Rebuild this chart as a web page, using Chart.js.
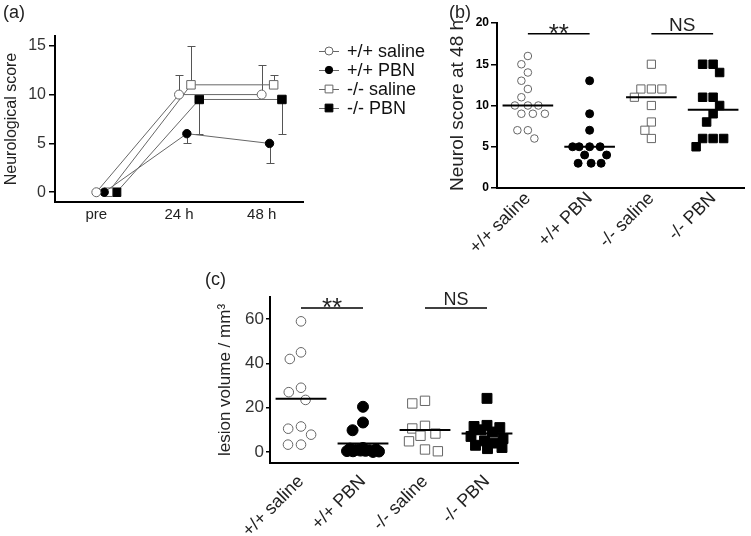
<!DOCTYPE html>
<html>
<head>
<meta charset="utf-8">
<script src="https://cdn.jsdelivr.net/npm/chart.js@4.4.1/dist/chart.umd.min.js"></script>
<style>
  body { margin: 0; background: #fff; width: 751px; height: 536px; position: relative; overflow: hidden;
         font-family: "Liberation Sans", Arial, sans-serif; }
  canvas { position: absolute; }
  .tag { position: absolute; font-size: 18px; line-height: 18px; color: #222; }
</style>
</head>
<body>
<canvas id="chartA" width="435" height="232" style="left:0;top:0"></canvas>
<canvas id="chartB" width="311" height="280" style="left:440px;top:0"></canvas>
<canvas id="chartC" width="330" height="268" style="left:205px;top:268px"></canvas>
<div class="tag" style="left:3px;top:3px">(a)</div>
<div class="tag" style="left:449px;top:3px">(b)</div>
<div class="tag" style="left:205px;top:270px">(c)</div>
<script>
/* ------------------------------
   DATA
--------------------------------*/

const groups = ["+/+ saline", "+/+ PBN", "-/- saline", "-/- PBN"];
const timeLabels = ["pre", "24 h", "48 h"];

// (a) neurological score over time
const scoreSalineWT = [0, 10, 10];
const scorePbnWT    = [0, 6, 5];
const scoreSalineKO = [0, 11, 11];
const scorePbnKO    = [0, 9.5, 9.5];
// end of each error bar
const errSalineWT = [null, 12, 13];
const errPbnWT    = [null, 5, 3];
const errSalineKO = [null, 15, 12];
const errPbnKO    = [null, 6, 6];
const yTicksA = [0, 5, 10, 15];

// (b) neurological score at 48 h
const neuroSalineWT = [16, 15, 14, 13, 12, 11, 10, 10, 10, 9, 9, 9, 7, 7, 6];
const neuroPbnWT    = [13, 9, 7, 5, 5, 5, 5, 4, 4, 3, 3, 3];
const neuroSalineKO = [15, 12, 12, 12, 11, 10, 8, 7, 6];
const neuroPbnKO    = [15, 15, 14, 11, 11, 10, 9, 8, 6, 6, 6, 5];
const neuroCenter   = [10, 5, 11, 9.5];
const yTicksB = [0, 5, 10, 15, 20];

// (c) lesion volume
const lesionSalineWT = [59, 45, 42, 29, 27, 23.5, 11.5, 10.5, 7.8, 3.3, 3.3];
const lesionPbnWT    = [20.4, 13.3, 9.8, 1.8, 1.5, 1.2, 1, 0.8, 0.6, 0.5, 0.4, 0.3, 0.2, 0];
const lesionSalineKO = [23.1, 21.9, 11.8, 10.6, 8.3, 7.3, 4.8, 1.1, 0.3];
const lesionPbnKO    = [24.2, 12, 11.5, 11, 10, 9, 7, 6, 5, 4, 3, 2, 1.5];
const lesionCenter   = [24, 3.8, 9.9, 8.3];
const yTicksC = [0, 20, 40, 60];

const sigPairs  = [[0, 1], [2, 3]];
const sigLabels = ["**", "NS"];

/* ------------------------------
   COMMON SETTINGS
--------------------------------*/

const FONT = '"Liberation Sans", Arial, sans-serif';
Chart.defaults.font.family = FONT;
Chart.defaults.color = "#222";
Chart.defaults.animation = false;
Chart.defaults.events = [];
Chart.defaults.plugins.legend.display = false;
Chart.defaults.plugins.tooltip.enabled = false;

const looks = [
    { pointStyle: "circle", fill: "#fff", stroke: "#666" },
    { pointStyle: "circle", fill: "#000", stroke: "#000" },
    { pointStyle: "rect",   fill: "#fff", stroke: "#666" },
    { pointStyle: "rect",   fill: "#000", stroke: "#000" }
];

function yAxis(o) {
    return {
        min: o.min, max: o.max,
        afterBuildTicks: s => { s.ticks = o.ticks.map(v => ({ value: v })); },
        afterFit: s => { s.width = o.width; },
        ticks: { font: o.tickFont, color: o.tickColor, padding: o.tickPad },
        grid: { drawOnChartArea: false, tickLength: o.tickLen, color: "#000", lineWidth: 1.5 },
        border: { color: "#000", width: 2 },
        title: { display: true, text: o.title, font: o.titleFont, color: "#222",
                 padding: { top: o.titlePad, bottom: 0 } }
    };
}

function xAxis(o) {
    return {
        type: "linear", min: -0.5, max: o.labels.length - 0.5,
        afterBuildTicks: s => { s.ticks = o.labels.map((_, i) => ({ value: i })); },
        afterFit: s => { s.height = o.height; },
        ticks: { callback: v => o.labels[v], font: o.font, color: "#222", padding: o.pad,
                 maxRotation: o.rot, minRotation: o.rot, autoSkip: false },
        grid: { display: false, drawTicks: false },
        border: { color: "#000", width: 2 }
    };
}

// simple beeswarm: offsets in px, highest values placed first.
// when a point would go wider than maxHalf it is put where it overlaps least
function swarm(ypx, dc, maxHalf) {
    const order = ypx.map((_, i) => i).sort((a, b) => ypx[b] - ypx[a]);
    const placed = [];
    const off = [];
    order.forEach(i => {
        const y = ypx[i];
        const cands = [0];
        const blocked = [];
        placed.forEach(p => {
            const dy = Math.abs(p.y - y);
            if (dy < dc) {
                const dx = Math.sqrt(dc * dc - dy * dy);
                blocked.push([p.x - dx, p.x + dx]);
                cands.push(p.x - dx, p.x + dx);
            }
        });
        cands.sort((a, b) => Math.abs(a) - Math.abs(b) || a - b);
        let x = cands.find(c => blocked.every(([l, r]) => c <= l + 1e-6 || c >= r - 1e-6));
        if (Math.abs(x) > maxHalf) {
            let best = -1;
            for (let c = -maxHalf; c <= maxHalf; c += 0.5) {
                const d = Math.min(...placed.map(p => Math.hypot(p.x - c, p.y - y)));
                if (d > best + 1e-6 || (Math.abs(d - best) < 1e-6 && Math.abs(c) < Math.abs(x))) {
                    best = d;
                    x = c;
                }
            }
        }
        placed.push({ x, y });
        off[i] = x;
    });
    return off;
}

function applySwarm(chart, sets, dc, maxHalf) {
    const xs = chart.scales.x, ys = chart.scales.y;
    const pxY = Math.abs(ys.getPixelForValue(1) - ys.getPixelForValue(0));
    const pxX = Math.abs(xs.getPixelForValue(1) - xs.getPixelForValue(0));
    sets.forEach((vals, g) => {
        const off = swarm(vals.map(v => v * pxY), dc, maxHalf);
        chart.data.datasets[g].data = vals.map((v, i) => ({ x: g + off[i] / pxX, y: v }));
    });
    chart.update();
}

// centre lines + significance brackets
function groupMarks(centers, sigLevel, sigFonts) {
    return {
        id: "groupMarks",
        afterDatasetsDraw(chart) {
            const { ctx, scales: { x, y } } = chart;
            ctx.save();
            ctx.strokeStyle = "#000";
            ctx.lineWidth = 2;
            centers.forEach((m, g) => {
                const py = y.getPixelForValue(m);
                ctx.beginPath();
                ctx.moveTo(x.getPixelForValue(g - 0.41), py);
                ctx.lineTo(x.getPixelForValue(g + 0.41), py);
                ctx.stroke();
            });
            const py = y.getPixelForValue(sigLevel);
            sigPairs.forEach(([a, b], k) => {
                const xa = x.getPixelForValue(a), xb = x.getPixelForValue(b);
                ctx.lineWidth = 1.5;
                ctx.beginPath();
                ctx.moveTo(xa, py);
                ctx.lineTo(xb, py);
                ctx.stroke();
                const f = sigFonts[k];
                ctx.font = f.font;
                ctx.fillStyle = "#222";
                ctx.textAlign = "center";
                ctx.textBaseline = "alphabetic";
                ctx.fillText(sigLabels[k], (xa + xb) / 2, py + f.dy);
            });
            ctx.restore();
        }
    };
}

function scatterSets(sets, radii) {
    return sets.map((vals, g) => ({
        label: groups[g],
        data: vals.map(v => ({ x: g, y: v })),
        pointStyle: looks[g].pointStyle,
        pointRadius: radii[g],
        pointBackgroundColor: looks[g].fill,
        pointBorderColor: looks[g].stroke,
        pointBorderWidth: 1
    }));
}

/* ------------------------------
   (a) TIME COURSE
--------------------------------*/

const scoresA = [scoreSalineWT, scorePbnWT, scoreSalineKO, scorePbnKO];
const errsA = [errSalineWT, errPbnWT, errSalineKO, errPbnKO];
const dodge = [0, 0.095, 0.145, 0.245];
const radiiA = [4.5, 4.2, 6, 6];

const errorBars = {
    id: "errorBars",
    beforeDatasetsDraw(chart) {
        const { ctx, scales: { x, y } } = chart;
        ctx.save();
        ctx.strokeStyle = "#555";
        ctx.lineWidth = 1;
        chart.data.datasets.forEach((ds, s) => {
            ds.data.forEach((p, i) => {
                const e = errsA[s][i];
                if (e == null) return;
                const px = Math.round(x.getPixelForValue(p.x)) + 0.5;
                const pe = Math.round(y.getPixelForValue(e)) + 0.5;
                ctx.beginPath();
                ctx.moveTo(px, y.getPixelForValue(p.y));
                ctx.lineTo(px, pe);
                ctx.moveTo(px - 4, pe);
                ctx.lineTo(px + 4, pe);
                ctx.stroke();
            });
        });
        ctx.restore();
    }
};

const sideLegend = {
    id: "sideLegend",
    afterDraw(chart) {
        const { ctx, chartArea } = chart;
        ctx.save();
        chart.data.datasets.forEach((ds, i) => {
            const cx = chartArea.right + 26;
            const cy = chartArea.top + 15 + i * 19;
            ctx.strokeStyle = "#666";
            ctx.lineWidth = 1;
            ctx.beginPath();
            ctx.moveTo(cx - 10, cy + 0.5);
            ctx.lineTo(cx + 10, cy + 0.5);
            ctx.stroke();
            ctx.fillStyle = ds.pointBackgroundColor;
            ctx.strokeStyle = ds.pointBorderColor;
            Chart.helpers.drawPoint(ctx, { pointStyle: ds.pointStyle, radius: ds.pointRadius - 0.5, borderWidth: 1 }, cx, cy);
            ctx.fillStyle = "#111";
            ctx.font = "18px " + FONT;
            ctx.textAlign = "left";
            ctx.textBaseline = "middle";
            ctx.fillText(ds.label, cx + 18, cy + 1);
        });
        ctx.restore();
    }
};

new Chart(document.getElementById("chartA"), {
    type: "line",
    data: {
        datasets: scoresA.map((vals, s) => ({
            label: groups[s],
            data: vals.map((v, i) => ({ x: i + dodge[s], y: v })),
            borderColor: "#666",
            borderWidth: 1,
            tension: 0,
            pointStyle: looks[s].pointStyle,
            pointRadius: radiiA[s],
            pointBackgroundColor: looks[s].fill,
            pointBorderColor: looks[s].stroke,
            pointBorderWidth: 1
        }))
    },
    options: {
        responsive: false,
        devicePixelRatio: 1,
        layout: { padding: { top: 36, right: 132, bottom: 0, left: 0 } },
        scales: {
            x: xAxis({ labels: timeLabels, height: 30, font: { size: 15 }, pad: 4, rot: 0 }),
            y: yAxis({ min: -1, max: 16, ticks: yTicksA, width: 55, tickFont: { size: 16 }, tickColor: "#333",
                       tickPad: 3, tickLen: 6, title: "Neurological score", titleFont: { size: 16 }, titlePad: 2 })
        }
    },
    plugins: [errorBars, sideLegend]
});

/* ------------------------------
   (b) SCORE AT 48 H
--------------------------------*/

const chartB = new Chart(document.getElementById("chartB"), {
    type: "scatter",
    data: { datasets: scatterSets([neuroSalineWT, neuroPbnWT, neuroSalineKO, neuroPbnKO], [3.8, 4, 5.8, 6]) },
    options: {
        responsive: false,
        devicePixelRatio: 1,
        layout: { padding: { top: 23, right: 1, bottom: 0, left: 0 } },
        scales: {
            x: xAxis({ labels: groups, height: 92, font: { size: 18 }, pad: 0, rot: 45 }),
            y: yAxis({ min: 0, max: 20, ticks: yTicksB, width: 57, tickFont: { size: 12, weight: "bold" }, tickColor: "#000",
                       tickPad: 2, tickLen: 6, title: "Neurol score at 48 h", titleFont: { size: 19 }, titlePad: 6 })
        }
    },
    plugins: [groupMarks(neuroCenter, 18.7, [
        { font: "26px " + FONT, dy: 8 },
        { font: "19px " + FONT, dy: -3 }
    ])]
});
applySwarm(chartB, [neuroSalineWT, neuroPbnWT, neuroSalineKO, neuroPbnKO], 10.5, 17);

/* ------------------------------
   (c) LESION VOLUME
--------------------------------*/

const chartC = new Chart(document.getElementById("chartC"), {
    type: "scatter",
    data: { datasets: scatterSets([lesionSalineWT, lesionPbnWT, lesionSalineKO, lesionPbnKO], [4.8, 5.5, 6.6, 7]) },
    options: {
        responsive: false,
        devicePixelRatio: 1,
        layout: { padding: { top: 29, right: 17, bottom: 0, left: 0 } },
        scales: {
            x: xAxis({ labels: groups, height: 73, font: { size: 18 }, pad: 8, rot: 45 }),
            y: yAxis({ min: -5, max: 70, ticks: yTicksC, width: 65, tickFont: { size: 17 }, tickColor: "#333",
                       tickPad: 2, tickLen: 4, title: "lesion volume / mm³", titleFont: { size: 17 }, titlePad: 10 })
        }
    },
    plugins: [groupMarks(lesionCenter, 65, [
        { font: "26px " + FONT, dy: 8 },
        { font: "18px " + FONT, dy: -3 }
    ])]
});
applySwarm(chartC, [lesionSalineWT, lesionPbnWT, lesionSalineKO, lesionPbnKO], 13, 16);
</script>
</body>
</html>
